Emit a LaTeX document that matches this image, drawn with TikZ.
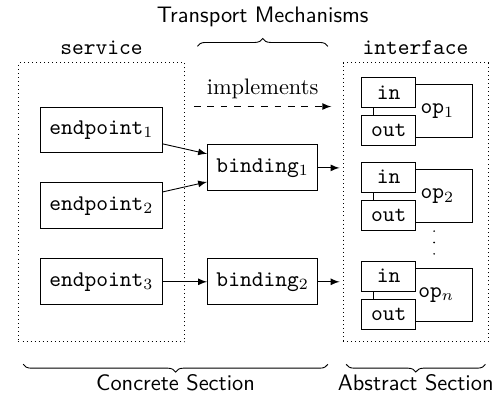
\documentclass[tikz,border=0pt]{standalone}
\usepackage{tikz}
\usetikzlibrary{arrows,
                decorations.pathreplacing,
                positioning,
                calc}
\tikzset{component/.style=
   {rectangle,
    draw,
    text centered,
    font=\ttfamily,
    inner xsep=4pt,
    minimum height=20.5pt}}
\tikzset{region/.style =
   {rectangle,
    draw,
    dash pattern=on 0.4pt off 1.4pt,
    minimum width=74.1pt,
    minimum height=124.5pt}}
\tikzset{operation/.style =
   {rectangle,
    draw,
    align=right,
    text width=28.2pt,
    inner xsep=8pt,
    minimum height=23.7pt}}
\tikzset{port/.style =
   {rectangle,
    draw,
    fill=white,
    text centered,
    font=\ttfamily,
    minimum width=24.1pt,
    minimum height=13.4pt}}
\tikzset{topbrace/.style = {decorate, decoration={brace, amplitude=3.5pt}}}
\tikzset{bottombrace/.style = {decorate, decoration={brace, mirror, amplitude=3.5pt}}}
\tikzset{arrow/.style = {draw, -latex}}

\begin{document}
\begin{tikzpicture}[auto]

    \useasboundingbox (0,0) rectangle (224.1pt,-179pt);

    \node [component] (endpoint1) at (45.3pt,-58pt) {endpoint$_1$};
    \node [component, below=13pt of endpoint1] (endpoint2) {endpoint$_2$};
    \node [component, below=13pt of endpoint2] (endpoint3) {endpoint$_3$};

    \node [component, right=19.7pt of endpoint3] (binding2) {binding$_2$};
    \coordinate (pair) at ($(endpoint1)!0.5!(endpoint2)$);
    \node [component] (binding1) at (binding2 |- pair) {binding$_1$};

    \node [region, label={[font=\ttfamily]above:service}] (service)
        at ([yshift=1.55pt]endpoint2) {};
    \node [region, minimum width=64.8pt, label={[font=\ttfamily]above:interface}] (interface)
        at ($(service)+(140.2pt,0)$) {};

    \node [operation, below=9.75pt of interface.north, xshift=3.1pt] (op1) {\texttt{op}$_1$};
    \node [operation, below=13.8pt of op1] (op2) {\texttt{op}$_2$};
    \node [operation, below=20pt of op2] (opn) {\texttt{op}$_n$};

    \foreach \op in {op1,op2,opn} {
        \node [port] (\op-in) at ([shift={(7.2pt,8.5pt)}]\op.west) {in};
        \node [port] (\op-out) at ([shift={(7.2pt,-8.5pt)}]\op.west) {out};
    }

    \foreach \k in {0,1,2}
        \fill ([shift={(5.2pt,{-3.5pt-5.1pt*\k})}]op2.south) circle (0.4pt);

    \draw [arrow] ([yshift=-6.25pt]endpoint1.east) -- ([yshift=6.25pt]binding1.west);
    \draw [arrow] ([yshift=6.25pt]endpoint2.east) -- ([yshift=-6.25pt]binding1.west);
    \draw [arrow] (endpoint3) -- (binding2);
    \draw [arrow, shorten >=1.3pt] (binding1) -- (binding1 -| interface.west);
    \draw [arrow, shorten >=1.3pt] (binding2) -- (binding2 -| interface.west);
    \draw [arrow, dashed] ($(service.east |- endpoint1.north)+(4pt,0)$)
        -- node [above] (implements) {implements}
        ($(interface.west |- endpoint1.north)+(-5pt,0)$);

    \draw [topbrace] ($(binding1.west |- service.north)+(-4.3pt,7.2pt)$)
        -- node [above=5pt, font=\sffamily] (transport) {Transport Mechanisms}
        ($(binding1.east |- service.north)+(4.3pt,7.2pt)$);
    \draw [bottombrace] ($(service.south west)+(2.3pt,-9.8pt)$)
        -- node [below=1pt, font=\sffamily] (concrete) {Concrete Section}
        ($(binding1.east |- service.south)+(4.3pt,-9.8pt)$);
    \draw [bottombrace] ($(interface.south west)+(1.6pt,-9.8pt)$)
        -- node [below=1pt, font=\sffamily] (abstract) {Abstract Section}
        ($(interface.south east)+(-1.4pt,-9.8pt)$);

\end{tikzpicture}
\end{document}
